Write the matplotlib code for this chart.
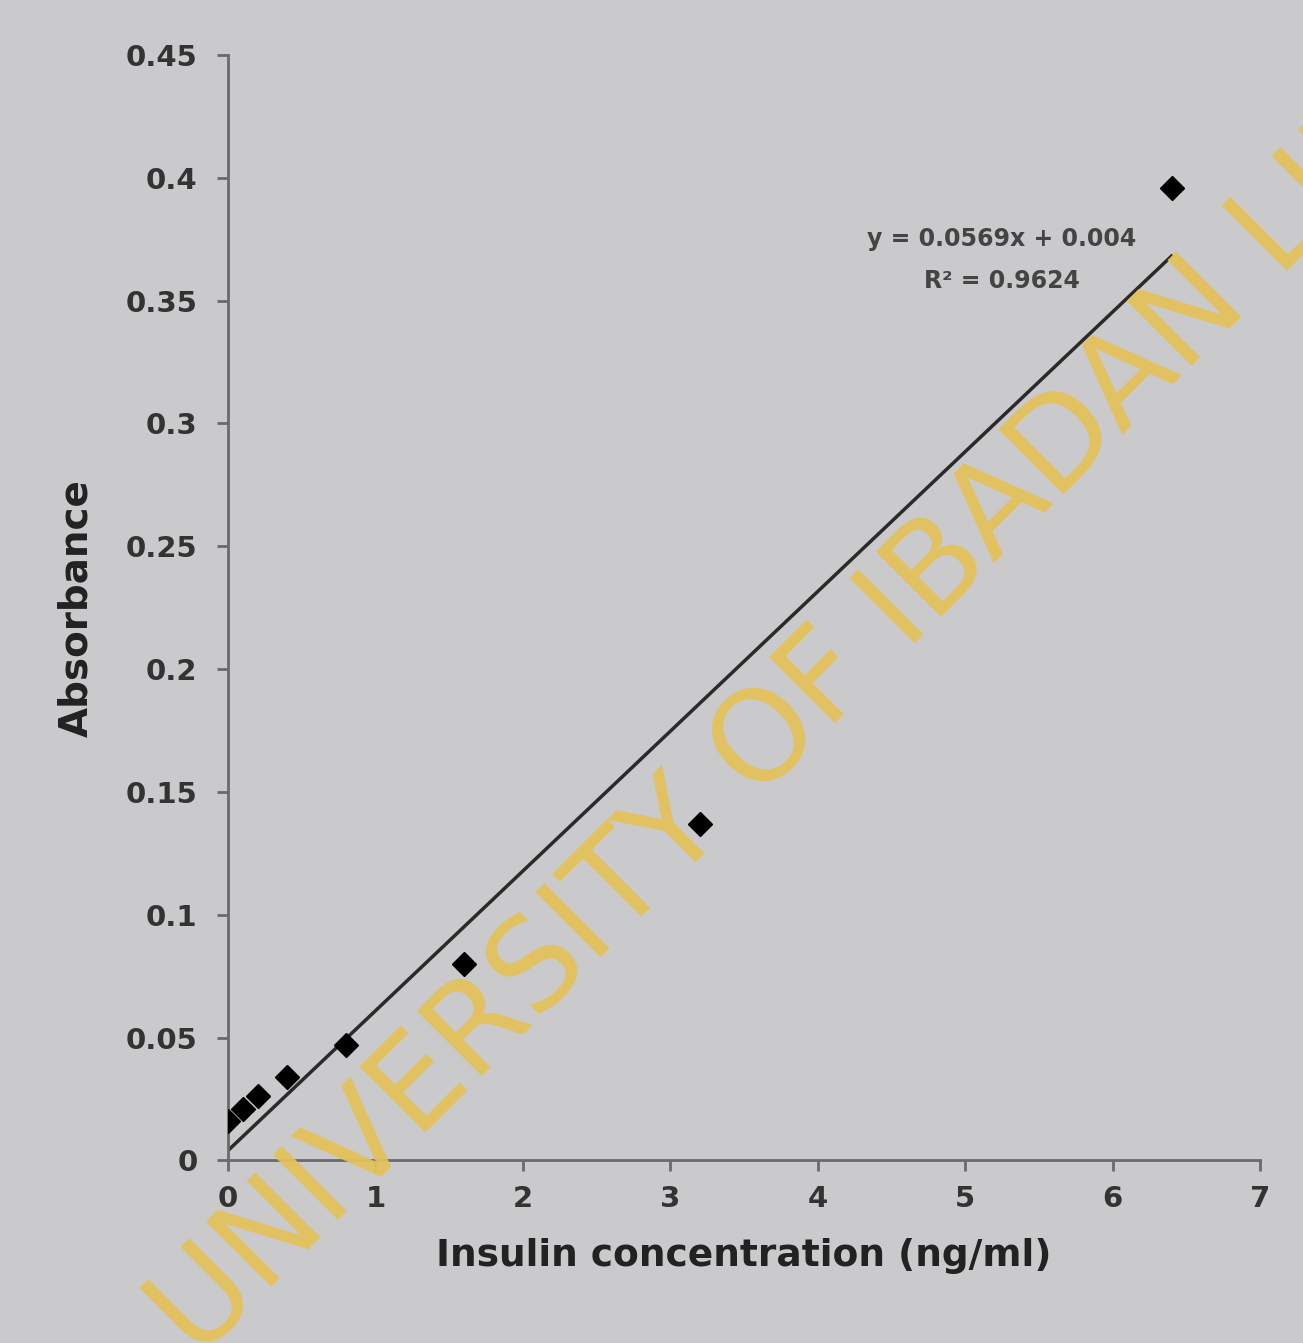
import numpy as np
import matplotlib.pyplot as plt

# insulin standards (ng/ml) and absorbance
conc = [0, 0.1, 0.2, 0.4, 0.8, 1.6, 3.2, 6.4]
absorbance = [0.016, 0.021, 0.026, 0.034, 0.047, 0.080, 0.137, 0.396]

slope = 0.0569
intercept = 0.004
eq_text = 'y = 0.0569x + 0.004\nR² = 0.9624'

bg = '#cacacc'
fig = plt.figure(figsize=(13.03, 13.43), dpi=100, facecolor=bg)
ax = fig.add_axes([0.175, 0.136, 0.792, 0.823], facecolor=bg)

ax.plot(conc, absorbance, 'D', color='black', markersize=12, zorder=3)
xl = np.array([0, 6.4])
ax.plot(xl, slope * xl + intercept, color='#2a2a2a', lw=2.5, zorder=2)

ax.set_xlim(0, 7)
ax.set_ylim(0, 0.45)
ax.set_xticks(range(0, 8))
ax.set_yticks([0, 0.05, 0.1, 0.15, 0.2, 0.25, 0.3, 0.35, 0.4, 0.45])
ax.set_yticklabels(['0', '0.05', '0.1', '0.15', '0.2', '0.25', '0.3', '0.35', '0.4', '0.45'])
for s in ['top', 'right']:
    ax.spines[s].set_visible(False)
for s in ['left', 'bottom']:
    ax.spines[s].set_color('#6a6a6a')
    ax.spines[s].set_linewidth(2)
ax.tick_params(colors='#6a6a6a', width=2, length=8, labelsize=21, labelcolor='#333333')
ax.tick_params(axis='y', pad=14)
ax.tick_params(axis='x', pad=10)
for lab in ax.get_xticklabels() + ax.get_yticklabels():
    lab.set_fontweight('bold')

ax.set_xlabel('Insulin concentration (ng/ml)', fontsize=27, fontweight='bold', color='#222222', labelpad=18)
ax.set_ylabel('Absorbance', fontsize=28, fontweight='bold', color='#222222', labelpad=22)

ax.text(5.25, 0.3665, eq_text, ha='center', va='center', fontsize=17, fontweight='bold',
        color='#444444', linespacing=1.95)

# watermark
fig.text(0.152, -0.0134, 'UNIVERSITY OF IBADAN LIBRARY', fontsize=91, family='DejaVu Sans',
         fontweight='normal', color='#e3c15a', alpha=0.95, rotation=45,
         ha='left', va='baseline', rotation_mode='anchor', zorder=10)

fig.savefig('out.png', dpi=100, facecolor=bg)
